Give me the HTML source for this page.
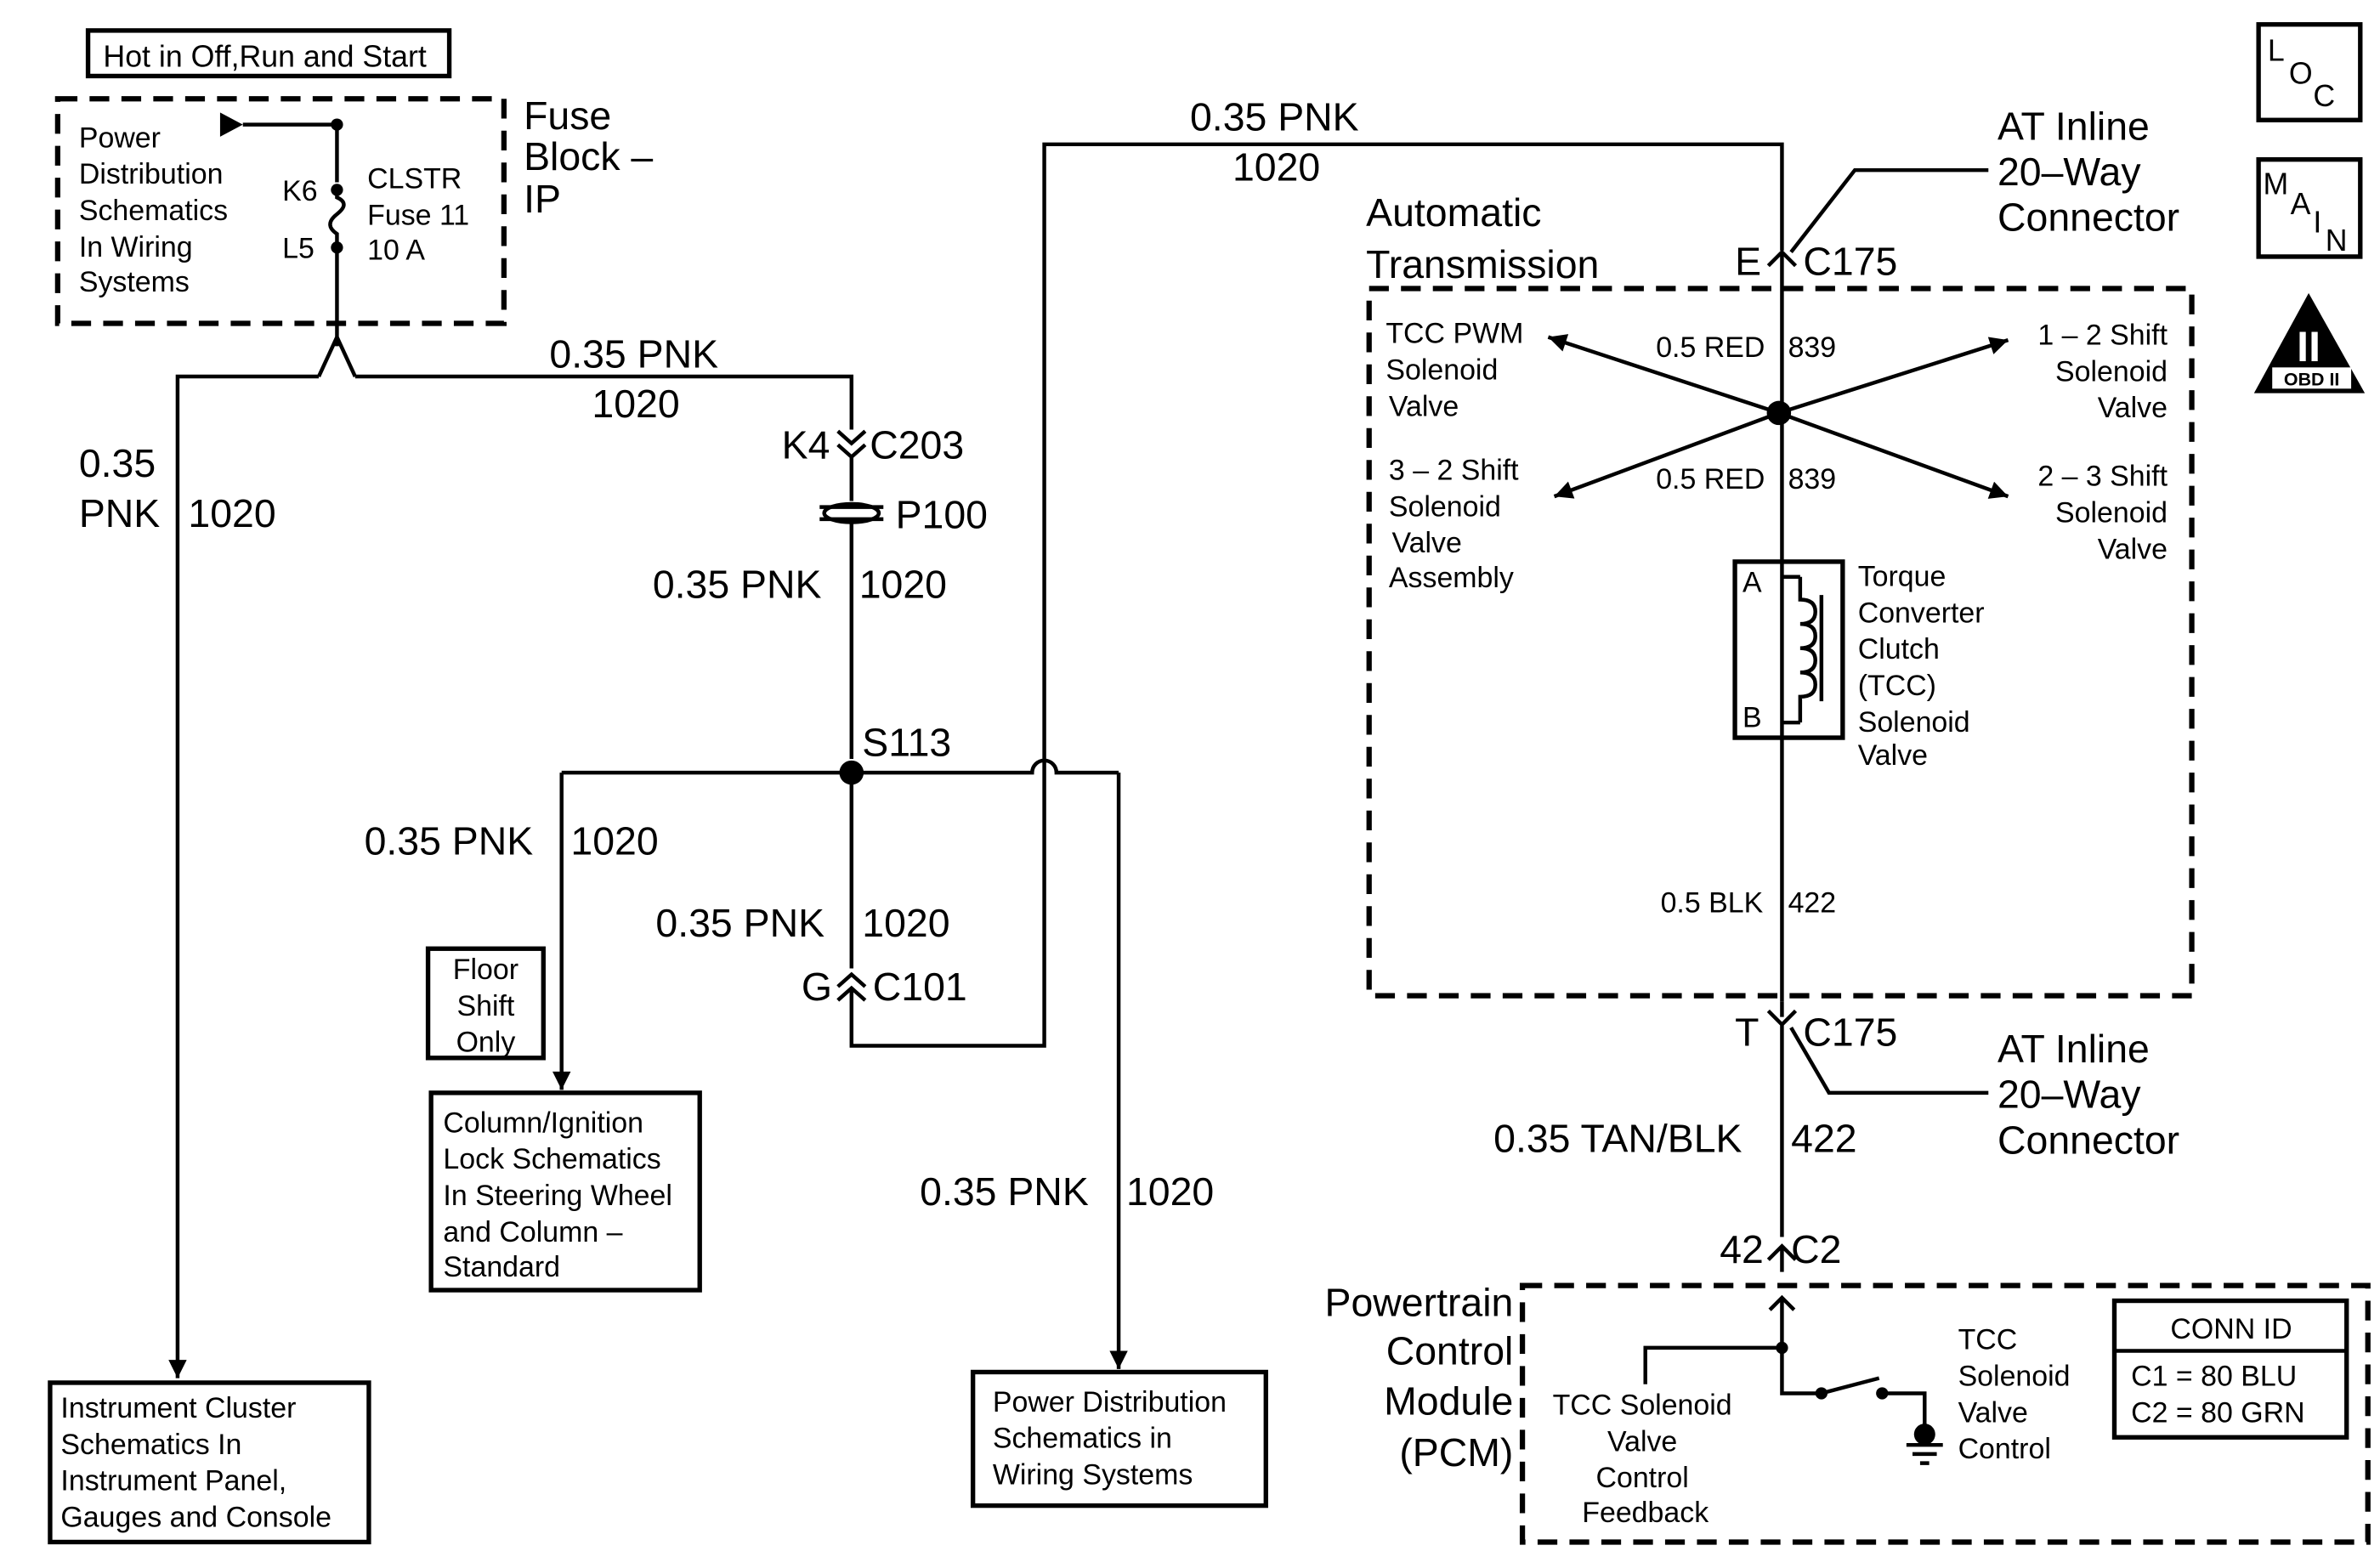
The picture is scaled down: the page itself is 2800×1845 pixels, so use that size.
<!DOCTYPE html>
<html><head><meta charset="utf-8"><style>
html,body{margin:0;padding:0;background:#fff}
svg{display:block}
text{font-family:"Liberation Sans",Arial,sans-serif;fill:#000}
.s{font-size:19px}.m{font-size:20px}.l{font-size:26px}
</style></head><body>
<svg width="2800" height="1845" viewBox="0 0 1568 1033" xmlns="http://www.w3.org/2000/svg">
<defs><marker id="ar" viewBox="0 0 10 10" refX="10" refY="5" markerWidth="16" markerHeight="12" markerUnits="userSpaceOnUse" orient="auto"><path d="M0,0 L10,5 L0,10 z" fill="#000" stroke="none"/></marker></defs>
<g fill="none" stroke="#000" stroke-width="2.5">
<rect x="58" y="20" width="238" height="30" stroke-width="3"/>
<rect x="38" y="65" width="294" height="148" stroke-width="3.5" stroke-dasharray="13 8"/>
<path d="M160,82 H222 V120"/>
<path d="M222,125 V130 q9,4 0,11 q-9,7 0,13 V163"/>
<path d="M222,163 V213 L222,228 M210,248 L222,222 L234,248 M234,248 H561 V283"/>
<path d="M210,248 H117 V908" marker-end="url(#ar)"/>
<path d="M552,284 l9,8 l9,-8 M552,293 l9,8 l9,-8 M561,301 V330"/>
<path d="M561,345 V500 M561,509 V638"/>
<path d="M552,650 l9,-8 l9,8 M552,659 l9,-8 l9,8 M561,651 V689 H688 V95 H1174 V165"/>
<path d="M370,509 H680 a8,8 0 0 1 16,0 H737"/>
<path d="M370,509 V718" marker-end="url(#ar)"/>
<path d="M737,509 V902" marker-end="url(#ar)"/>
<rect x="282" y="625" width="76" height="72" stroke-width="3"/>
<rect x="284" y="720" width="177" height="130" stroke-width="3"/>
<rect x="33" y="911" width="210" height="105" stroke-width="3"/>
<rect x="641" y="904" width="193" height="88" stroke-width="3"/>
<path d="M1180,166 L1222,112 H1310"/>
<path d="M1165,175 l9,-9 l9,9 M1174,166 V660"/>
<rect x="902" y="190" width="542" height="466" stroke-width="3.5" stroke-dasharray="13 8"/>
<path d="M1172,272 L1020,222" marker-end="url(#ar)"/>
<path d="M1172,272 L1323,224" marker-end="url(#ar)"/>
<path d="M1172,272 L1024,327" marker-end="url(#ar)"/>
<path d="M1172,272 L1323,327" marker-end="url(#ar)"/>
<rect x="1143" y="370" width="71" height="116" stroke-width="3"/>
<path d="M1174,380 H1186 M1174,476 H1186 M1186,380 V395 q10,0 10,8 q0,8 -10,8 q10,0 10,8 q0,8 -10,8 q10,0 10,8 q0,8 -10,8 q10,0 10,8 q0,8 -10,8 V476 M1200,392 V462"/>
<path d="M1174,660 V670 M1165,666 l9,9 l9,-9 M1174,675 V815 M1180,677 L1205,720 H1310"/>
<path d="M1165,830 l9,-9 l9,9 M1174,822 V838 M1174,856 V888 H1084 V912 M1174,888 V918 H1200 L1238,908 M1240,918 H1268 V945 M1256,952 H1280 M1260,958 H1276 M1265,964 H1271 M1166,863 l8,-8 l8,8"/>
<rect x="1003" y="847" width="557" height="169" stroke-width="3.5" stroke-dasharray="13 8"/>
<rect x="1393" y="857" width="153" height="90" stroke-width="3"/>
<path d="M1393,890 H1546"/>
<rect x="1488" y="16" width="67" height="63" stroke-width="3"/>
<rect x="1488" y="105" width="67" height="64" stroke-width="3"/>
</g>
<path d="M145,74 L160,82 L145,90 z"/>
<circle cx="222" cy="82" r="4"/><circle cx="222" cy="125" r="4"/><circle cx="222" cy="163" r="4"/>
<g fill="none" stroke="#000" stroke-width="2.5"><ellipse cx="561" cy="338" rx="18" ry="6"/><path d="M540,334 H582 M540,342 H582"/></g>
<circle cx="561" cy="509" r="8"/><circle cx="1172" cy="272" r="8"/>
<circle cx="1174" cy="888" r="4"/><circle cx="1200" cy="918" r="4"/><circle cx="1240" cy="918" r="4"/><circle cx="1268" cy="945" r="7"/>
<path d="M1521,193 L1485,259 L1558,259 z"/>
<rect x="1497" y="242" width="52" height="14" fill="#fff"/>
<text x="1523" y="254" font-size="12" text-anchor="middle" font-weight="bold">OBD II</text>
<text x="1521" y="238" font-size="28" text-anchor="middle" font-weight="bold" style="fill:#fff">II</text>
<text x="1494" y="40" class="m">L</text><text x="1508" y="55" class="m">O</text><text x="1524" y="70" class="m">C</text>
<text x="1491" y="128" class="m">M</text><text x="1509" y="141" class="m">A</text><text x="1524" y="153" class="m">I</text><text x="1532" y="165" class="m">N</text>
<text x="68" y="44" class="m">Hot in Off,Run and Start</text>
<g class="s"><text x="52" y="97">Power</text><text x="52" y="121">Distribution</text><text x="52" y="145">Schematics</text><text x="52" y="169">In Wiring</text><text x="52" y="192">Systems</text>
<text x="186" y="132">K6</text><text x="186" y="170">L5</text><text x="242" y="124">CLSTR</text><text x="242" y="148">Fuse 11</text><text x="242" y="171">10 A</text></g>
<g class="l"><text x="345" y="85">Fuse</text><text x="345" y="112">Block –</text><text x="345" y="140">IP</text>
<text x="362" y="242">0.35 PNK</text><text x="390" y="275">1020</text>
<text x="52" y="314">0.35</text><text x="52" y="347">PNK</text><text x="124" y="347">1020</text>
<text x="515" y="302">K4</text><text x="573" y="302">C203</text><text x="590" y="348">P100</text>
<text x="430" y="394">0.35 PNK</text><text x="566" y="394">1020</text>
<text x="568" y="498">S113</text>
<text x="240" y="563">0.35 PNK</text><text x="376" y="563">1020</text>
<text x="432" y="617">0.35 PNK</text><text x="568" y="617">1020</text>
<text x="528" y="659">G</text><text x="575" y="659">C101</text>
<text x="784" y="86">0.35 PNK</text><text x="812" y="119">1020</text>
<text x="606" y="794">0.35 PNK</text><text x="742" y="794">1020</text>
<text x="900" y="149">Automatic</text><text x="900" y="183">Transmission</text>
<text x="1316" y="92">AT Inline</text><text x="1316" y="122">20–Way</text><text x="1316" y="152">Connector</text>
<text x="1143" y="181">E</text><text x="1188" y="181">C175</text>
<text x="1143" y="689">T</text><text x="1188" y="689">C175</text>
<text x="1316" y="700">AT Inline</text><text x="1316" y="730">20–Way</text><text x="1316" y="760">Connector</text>
<text x="984" y="759">0.35 TAN/BLK</text><text x="1180" y="759">422</text>
<text x="1133" y="832">42</text><text x="1180" y="832">C2</text>
<g text-anchor="end"><text x="997" y="867">Powertrain</text><text x="997" y="899">Control</text><text x="997" y="932">Module</text><text x="997" y="966">(PCM)</text></g></g>
<g class="s"><text x="320" y="645" text-anchor="middle">Floor</text><text x="320" y="669" text-anchor="middle">Shift</text><text x="320" y="693" text-anchor="middle">Only</text>
<text x="292" y="746">Column/Ignition</text><text x="292" y="770">Lock Schematics</text><text x="292" y="794">In Steering Wheel</text><text x="292" y="818">and Column –</text><text x="292" y="841">Standard</text>
<text x="40" y="934">Instrument Cluster</text><text x="40" y="958">Schematics In</text><text x="40" y="982">Instrument Panel,</text><text x="40" y="1006">Gauges and Console</text>
<text x="654" y="930">Power Distribution</text><text x="654" y="954">Schematics in</text><text x="654" y="978">Wiring Systems</text>
<text x="913" y="226">TCC PWM</text><text x="913" y="250">Solenoid</text><text x="915" y="274">Valve</text>
<text x="915" y="316">3 – 2 Shift</text><text x="915" y="340">Solenoid</text><text x="917" y="364">Valve</text><text x="915" y="387">Assembly</text>
<g text-anchor="end"><text x="1428" y="227">1 – 2 Shift</text><text x="1428" y="251">Solenoid</text><text x="1428" y="275">Valve</text>
<text x="1428" y="320">2 – 3 Shift</text><text x="1428" y="344">Solenoid</text><text x="1428" y="368">Valve</text></g>
<text x="1091" y="235">0.5 RED</text><text x="1178" y="235">839</text>
<text x="1091" y="322">0.5 RED</text><text x="1178" y="322">839</text>
<text x="1148" y="390">A</text><text x="1148" y="479">B</text>
<text x="1224" y="386">Torque</text><text x="1224" y="410">Converter</text><text x="1224" y="434">Clutch</text><text x="1224" y="458">(TCC)</text><text x="1224" y="482">Solenoid</text><text x="1224" y="504">Valve</text>
<text x="1094" y="601">0.5 BLK</text><text x="1178" y="601">422</text>
<g text-anchor="middle"><text x="1082" y="932">TCC Solenoid</text><text x="1082" y="956">Valve</text><text x="1082" y="980">Control</text><text x="1084" y="1003">Feedback</text>
<text x="1470" y="882">CONN ID</text></g>
<text x="1290" y="889">TCC</text><text x="1290" y="913">Solenoid</text><text x="1290" y="937">Valve</text><text x="1290" y="961">Control</text>
<text x="1404" y="913">C1 = 80 BLU</text><text x="1404" y="937">C2 = 80 GRN</text></g>
</svg>
</body></html>
